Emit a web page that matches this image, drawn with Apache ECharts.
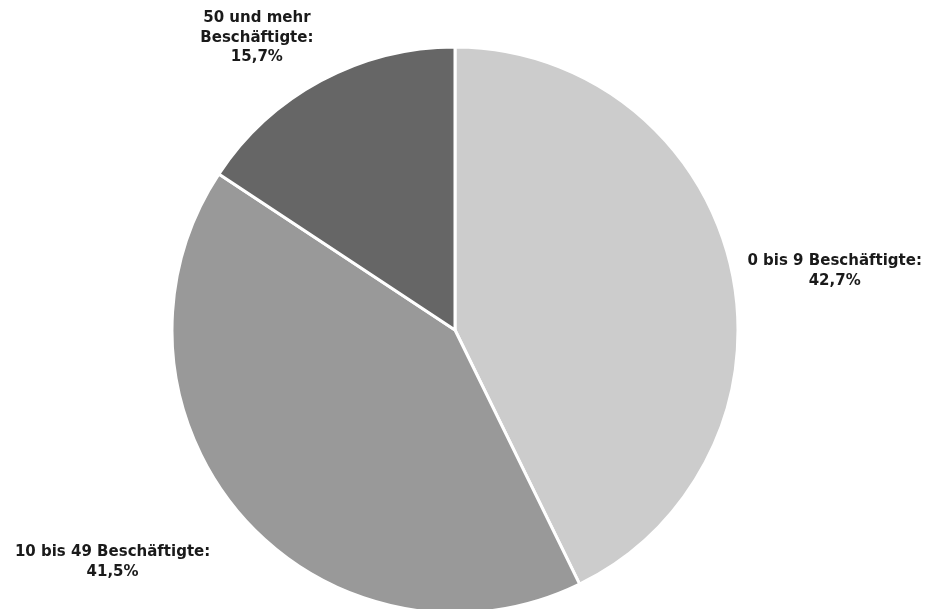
<!DOCTYPE html>
<html>
<head>
<meta charset="utf-8">
<script src="https://cdn.jsdelivr.net/npm/echarts@6/dist/echarts.min.js"></script>
<style>
html,body{margin:0;padding:0;background:#fff;}
#chart{width:929px;height:609px;}
</style>
</head>
<body>
<div id="chart"></div>
<script>
const categories = ['0 bis 9 Beschäftigte:', '10 bis 49 Beschäftigte:', '50 und mehr\nBeschäftigte:'];
const values = [42.7, 41.5, 15.7];
const valueLabels = ['42,7%', '41,5%', '15,7%'];
const colors = ['#cccccc', '#999999', '#666666'];

const CX = 455, CY = 330, R = 283;
// label block offset from the slice's outer mid-point (style only)
const labelOffset = [[104, 5], [-130, 45], [-64, -43]];

const total = values.reduce((a, b) => a + b, 0);
const midAngles = [];
let acc = 0;
for (const v of values) {
  midAngles.push((acc + v / 2) / total * 2 * Math.PI);
  acc += v;
}

const chart = echarts.init(document.getElementById('chart'), null, {renderer: 'canvas'});
chart.setOption({
  animation: false,
  backgroundColor: '#ffffff',
  series: [{
    type: 'pie',
    center: [CX, CY],
    radius: R,
    startAngle: 90,
    clockwise: true,
    avoidLabelOverlap: false,
    data: categories.map((c, i) => ({
      name: c,
      value: values[i],
      itemStyle: {color: colors[i]}
    })),
    itemStyle: {borderColor: '#ffffff', borderWidth: 3},
    label: {
      show: true,
      position: 'outside',
      formatter: p => p.name + '\n' + valueLabels[p.dataIndex],
      fontFamily: 'DejaVu Sans',
      fontWeight: 'bold',
      fontSize: 15,
      lineHeight: 19.5,
      color: '#1a1a1a',
      align: 'center'
    },
    labelLine: {show: false},
    labelLayout: function (params) {
      const i = params.dataIndex;
      const th = midAngles[i];
      const px = CX + Math.sin(th) * R, py = CY - Math.cos(th) * R;
      return {
        x: px + labelOffset[i][0],
        y: py + labelOffset[i][1],
        align: 'center',
        verticalAlign: 'middle'
      };
    },
    emphasis: {disabled: true}
  }]
});
</script>
</body>
</html>
